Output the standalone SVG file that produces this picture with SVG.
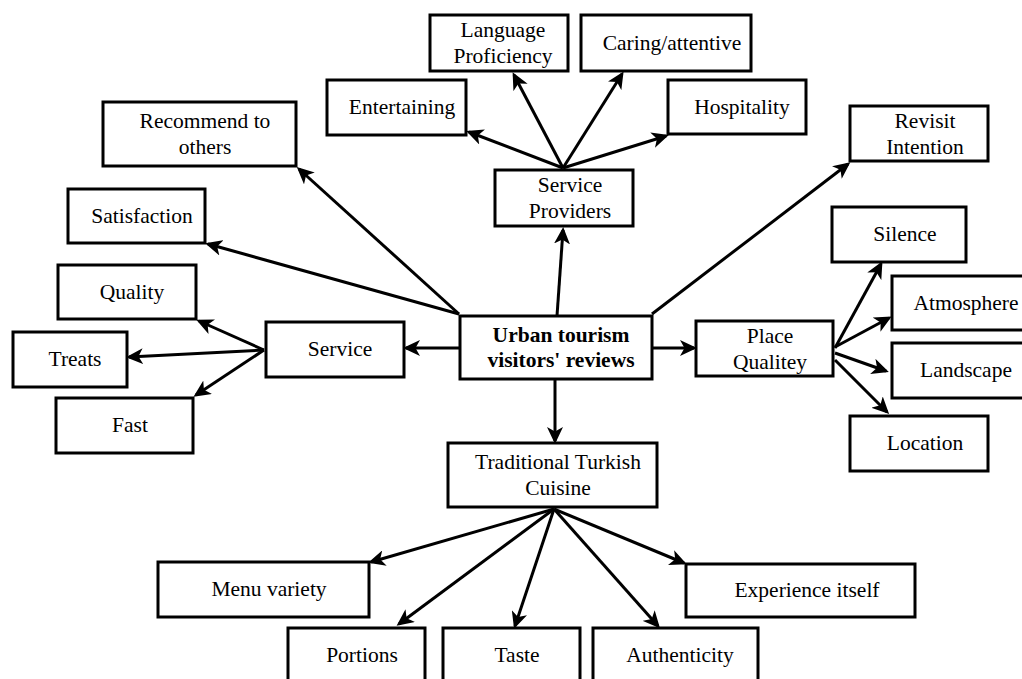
<svg xmlns="http://www.w3.org/2000/svg" width="1022" height="679" viewBox="0 0 1022 679">
<style>
.box{fill:#fff;stroke:#000;stroke-width:3}
.t{font-family:"Liberation Serif","Times New Roman",serif;font-size:21.5px;fill:#000;text-anchor:middle}
.b{font-weight:bold}
.c line{stroke:#000;stroke-width:3;marker-end:url(#ah)}
</style>
<defs>
<marker id="ah" viewBox="0 0 17 16" markerWidth="17" markerHeight="16" refX="14" refY="8" orient="auto" markerUnits="userSpaceOnUse">
<path d="M0,0 L17,8 L0,16 L4.5,8 Z" fill="#000"/>
</marker>
</defs>
<rect width="1022" height="679" fill="#fff"/>
<g class="c" id="connectors">
<line x1="557" y1="316" x2="563" y2="230"/>
<line x1="459" y1="314" x2="299" y2="169"/>
<line x1="459" y1="314" x2="208" y2="244"/>
<line x1="460" y1="348" x2="406" y2="348"/>
<line x1="652" y1="348" x2="694" y2="348"/>
<line x1="652" y1="314" x2="848" y2="164"/>
<line x1="555" y1="380" x2="555" y2="441"/>
<line x1="563" y1="168" x2="469" y2="132"/>
<line x1="563" y1="168" x2="514" y2="75"/>
<line x1="563" y1="168" x2="622" y2="74"/>
<line x1="563" y1="168" x2="666" y2="136"/>
<line x1="264" y1="350" x2="199" y2="321"/>
<line x1="264" y1="350" x2="129" y2="357"/>
<line x1="264" y1="350" x2="196" y2="395"/>
<line x1="835" y1="348" x2="881" y2="264"/>
<line x1="835" y1="347" x2="889" y2="318"/>
<line x1="835" y1="353" x2="886" y2="371"/>
<line x1="835" y1="360" x2="887" y2="412"/>
<line x1="554" y1="509" x2="371" y2="562"/>
<line x1="554" y1="509" x2="399" y2="624"/>
<line x1="554" y1="509" x2="515" y2="626"/>
<line x1="554" y1="509" x2="658" y2="626"/>
<line x1="554" y1="509" x2="684" y2="563"/>
</g>
<g id="center"><rect class="box" x="460" y="316" width="192" height="63"/><text class="t b" x="561" y="342">Urban tourism</text><text class="t b" x="561" y="367">visitors' reviews</text></g>
<g id="service-providers"><rect class="box" x="495" y="170" width="138" height="56"/><text class="t" x="570" y="192">Service</text><text class="t" x="570" y="218">Providers</text></g>
<g id="language"><rect class="box" x="430" y="15" width="138" height="56"/><text class="t" x="503" y="37">Language</text><text class="t" x="503" y="63">Proficiency</text></g>
<g id="caring"><rect class="box" x="581" y="15" width="170" height="56"/><text class="t" x="672" y="50">Caring/attentive</text></g>
<g id="entertaining"><rect class="box" x="327" y="80" width="139" height="55"/><text class="t" x="402" y="114">Entertaining</text></g>
<g id="hospitality"><rect class="box" x="668" y="80" width="138" height="54"/><text class="t" x="742" y="114">Hospitality</text></g>
<g id="recommend"><rect class="box" x="103" y="102" width="193" height="64"/><text class="t" x="205" y="128">Recommend to</text><text class="t" x="205" y="154">others</text></g>
<g id="satisfaction"><rect class="box" x="68" y="189" width="137" height="54"/><text class="t" x="142" y="223">Satisfaction</text></g>
<g id="quality"><rect class="box" x="58" y="265" width="138" height="54"/><text class="t" x="132" y="299">Quality</text></g>
<g id="treats"><rect class="box" x="13" y="332" width="114" height="55"/><text class="t" x="75" y="366">Treats</text></g>
<g id="fast"><rect class="box" x="56" y="398" width="137" height="55"/><text class="t" x="130" y="432">Fast</text></g>
<g id="service"><rect class="box" x="266" y="322" width="138" height="55"/><text class="t" x="340" y="356">Service</text></g>
<g id="place"><rect class="box" x="696" y="321" width="137" height="55"/><text class="t" x="770" y="343">Place</text><text class="t" x="770" y="369">Qualitey</text></g>
<g id="revisit"><rect class="box" x="850" y="106" width="138" height="55"/><text class="t" x="925" y="128">Revisit</text><text class="t" x="925" y="154">Intention</text></g>
<g id="silence"><rect class="box" x="832" y="207" width="134" height="55"/><text class="t" x="905" y="241">Silence</text></g>
<g id="atmosphere"><rect class="box" x="892" y="276" width="140" height="54"/><text class="t" x="966" y="310">Atmosphere</text></g>
<g id="landscape"><rect class="box" x="892" y="343" width="140" height="55"/><text class="t" x="966" y="377">Landscape</text></g>
<g id="location"><rect class="box" x="850" y="416" width="138" height="55"/><text class="t" x="925" y="450">Location</text></g>
<g id="traditional"><rect class="box" x="448" y="443" width="209" height="64"/><text class="t" x="558" y="469">Traditional Turkish</text><text class="t" x="558" y="495">Cuisine</text></g>
<g id="menu"><rect class="box" x="158" y="562" width="211" height="55"/><text class="t" x="269" y="596">Menu variety</text></g>
<g id="experience"><rect class="box" x="686" y="564" width="229" height="53"/><text class="t" x="807" y="597">Experience itself</text></g>
<g id="portions"><rect class="box" x="288" y="628" width="137" height="70"/><text class="t" x="362" y="662">Portions</text></g>
<g id="taste"><rect class="box" x="443" y="628" width="137" height="70"/><text class="t" x="517" y="662">Taste</text></g>
<g id="authenticity"><rect class="box" x="593" y="628" width="165" height="70"/><text class="t" x="680" y="662">Authenticity</text></g>
</svg>
